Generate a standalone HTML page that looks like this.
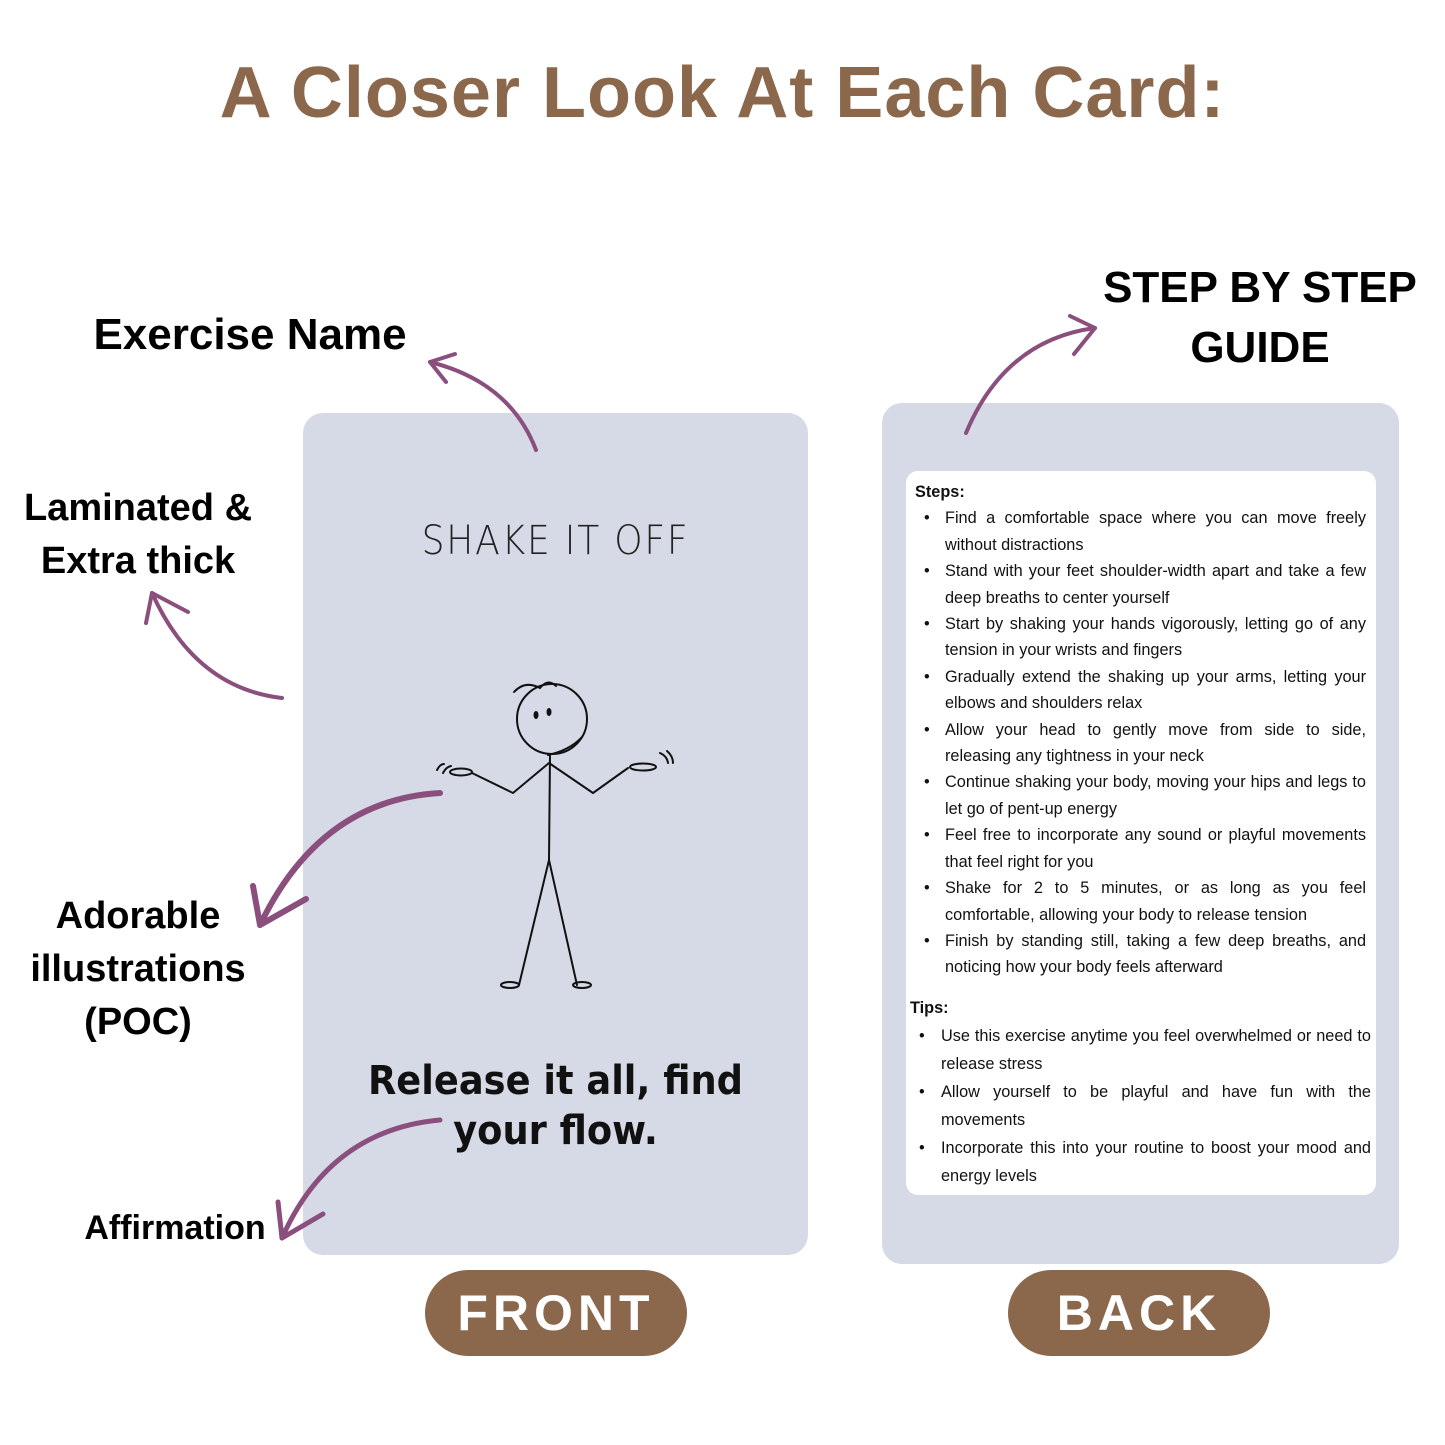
<!DOCTYPE html>
<html><head><meta charset="utf-8"><style>
body{margin:0;width:1445px;height:1445px;background:#fff;position:relative;overflow:hidden;font-family:"Liberation Sans",sans-serif}
.a{position:absolute}
h1{position:absolute;left:0;width:1445px;top:52px;margin:0;text-align:center;font-size:72px;font-weight:bold;color:#8b674b;letter-spacing:1px}
.lab{position:absolute;font-weight:bold;color:#000;text-align:center;line-height:53px}
.card{position:absolute;background:#d5dae6;border-radius:20px}
.pill{position:absolute;background:#8b674b;color:#fff;border-radius:44px;font-weight:bold;font-size:50px;letter-spacing:5px;text-align:center;line-height:86px}
.panel{position:absolute;left:906px;top:471px;width:470px;height:724px;background:#fff;border-radius:12px}
.txt{position:absolute;font-size:16.3px;line-height:26.4px;color:#111}
.txt ul{margin:0;padding:0;list-style:none}
.txt li{position:relative;padding-left:30px;text-align:justify}
.txt li:before{content:"•";position:absolute;left:9px}
</style></head><body>
<h1>A Closer Look At Each Card:</h1>
<div class="lab" style="left:70px;top:308px;width:360px;font-size:44px">Exercise Name</div>
<div class="lab" style="left:0;top:482px;width:276px;font-size:38px">Laminated &amp;<br>Extra thick</div>
<div class="lab" style="left:0;top:890px;width:276px;font-size:38px">Adorable<br>illustrations<br>(POC)</div>
<div class="lab" style="left:70px;top:1202px;width:210px;font-size:34px">Affirmation</div>
<div class="lab" style="left:1090px;top:258px;width:340px;font-size:44px;line-height:60px">STEP BY STEP<br>GUIDE</div>

<div class="card" style="left:303px;top:413px;width:505px;height:842px"></div>
<div class="card" style="left:882px;top:403px;width:517px;height:861px"></div>

<div class="a" style="left:303px;top:518px;width:505px;text-align:center;font-size:40px;font-family:'DejaVu Sans',sans-serif;font-weight:200;letter-spacing:2px;color:#222;transform:scaleX(0.9)">SHAKE IT OFF</div>
<div class="a" style="left:303px;top:1056px;width:505px;text-align:center;font-size:40px;line-height:50px;font-weight:bold;color:#111;font-family:'DejaVu Sans',sans-serif;transform:scaleX(0.92)">Release it all, find<br>your flow.</div>

<svg class="a" style="left:0;top:0" width="1445" height="1445" viewBox="0 0 1445 1445">
<g fill="none" stroke="#111" stroke-width="2" stroke-linecap="round">
<circle cx="552" cy="719" r="35"/>
<path d="M514 692 Q525 680 540 688 Q548 678 556 686"/>
<path d="M548 755 Q570 750 582 737"/>
<path d="M550 755 L549 860 L519 985 M549 860 L577 985"/>
<path d="M549 763 L513 793 L472 773 M549 763 L593 793 L628 768"/>
<ellipse cx="461" cy="772" rx="11" ry="3.5"/>
<ellipse cx="643" cy="767" rx="13" ry="3.5"/>
<path d="M437 770 Q440 764 444 764 M443 773 Q446 767 451 766 M660 753 Q667 756 668 763 M667 751 Q673 756 673 763"/>
<ellipse cx="510" cy="985" rx="9" ry="3"/>
<ellipse cx="582" cy="985" rx="9" ry="3"/>
</g>
<g fill="#111"><ellipse cx="536" cy="715" rx="2.5" ry="4"/><ellipse cx="549" cy="712" rx="2.5" ry="4"/></g>
<g fill="none" stroke="#8a4f7d" stroke-width="4" stroke-linecap="round" stroke-linejoin="round">
<path d="M536 450 Q510 382 430 362"/><path d="M455 354 L430 362 L446 382"/>
<path d="M282 698 Q195 688 152 593"/><path d="M146 623 L152 593 L188 612"/>
<path d="M440 793 Q320 800 260 925" stroke-width="6"/><path d="M253 886 L260 925 L306 899" stroke-width="6"/>
<path d="M440 1120 Q330 1130 282 1238" stroke-width="5"/><path d="M278 1202 L282 1238 L323 1214" stroke-width="5"/>
<path d="M966 433 Q1005 340 1095 328"/><path d="M1070 316 L1095 328 L1074 354"/>
</g>
</svg>

<div class="panel"></div>
<div class="txt" style="left:915px;top:479px;width:451px">
<b style="display:block;margin-left:0">Steps:</b>
<ul>
<li>Find a comfortable space where you can move freely without distractions</li>
<li>Stand with your feet shoulder-width apart and take a few deep breaths to center yourself</li>
<li>Start by shaking your hands vigorously, letting go of any tension in your wrists and fingers</li>
<li>Gradually extend the shaking up your arms, letting your elbows and shoulders relax</li>
<li>Allow your head to gently move from side to side, releasing any tightness in your neck</li>
<li>Continue shaking your body, moving your hips and legs to let go of pent-up energy</li>
<li>Feel free to incorporate any sound or playful movements that feel right for you</li>
<li>Shake for 2 to 5 minutes, or as long as you feel comfortable, allowing your body to release tension</li>
<li>Finish by standing still, taking a few deep breaths, and noticing how your body feels afterward</li>
</ul></div>
<div class="txt" style="left:910px;top:994px;width:461px;line-height:28px">
<b style="display:block">Tips:</b>
<ul>
<li style="padding-left:31px">Use this exercise anytime you feel overwhelmed or need to release stress</li>
<li style="padding-left:31px">Allow yourself to be playful and have fun with the movements</li>
<li style="padding-left:31px">Incorporate this into your routine to boost your mood and energy levels</li>
</ul></div>

<div class="pill" style="left:425px;top:1270px;width:262px;height:86px">FRONT</div>
<div class="pill" style="left:1008px;top:1270px;width:262px;height:86px">BACK</div>
</body></html>
